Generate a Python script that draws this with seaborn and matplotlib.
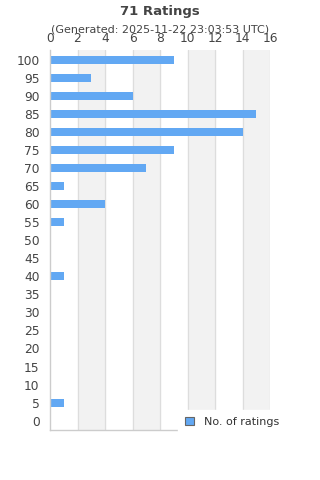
import pandas as pd
import seaborn as sns
import matplotlib.pyplot as plt
import numpy as np

scores = ['100', '95', '90', '85', '80', '75', '70', '65', '60', '55', '50',
          '45', '40', '35', '30', '25', '20', '15', '10', '5', '0']
ratings = [9, 3, 6, 15, 14, 9, 7, 1, 4, 1, 0, 0, 1, 0, 0, 0, 0, 0, 0, 1, 0]
x_ticks = [0, 2, 4, 6, 8, 10, 12, 14, 16]

data = pd.DataFrame({'score': scores, 'count': ratings})

sns.set_style("white")
plt.rcParams['font.family'] = ['DejaVu Sans']

fig = plt.figure(figsize=(3.2, 4.8), dpi=100)
ax = fig.add_axes([50/320, 1 - 430/480, 220/320, 380/480])

# alternating background bands
for i in range(len(x_ticks) - 1):
    if i % 2 == 1:
        ax.axvspan(x_ticks[i], x_ticks[i + 1], color='#f2f2f2', zorder=0)
for t in x_ticks[1:]:
    ax.axvline(t, color='#dddddd', lw=0.9, zorder=0.5)

sns.barplot(x='count', y='score', data=data, order=scores, orient='h',
            color='#62a8f3', saturation=1, width=0.44, ax=ax,
            label='No. of ratings', zorder=2, linewidth=0)

ax.set_xlim(0, 16)
ax.set_ylim(20.52, -0.55)
ax.set_xticks(x_ticks)
ax.xaxis.tick_top()
ax.tick_params(axis='x', length=0, pad=3.5, labelsize=8.8, labelcolor='#444444')
ax.tick_params(axis='y', length=0, pad=7.5, labelsize=8.8, labelcolor='#444444')
ax.set_xlabel('')
ax.set_ylabel('')
for side in ['top', 'right']:
    ax.spines[side].set_visible(False)
for side in ['left', 'bottom']:
    ax.spines[side].set_color('#cccccc')
    ax.spines[side].set_linewidth(1)

fig.text(0.5, 1 - 11/480, '71 Ratings', ha='center', va='center',
         fontsize=9.5, fontweight='bold', color='#444444')
fig.text(0.5, 1 - 30/480, '(Generated: 2025-11-22 23:03:53 UTC)', ha='center',
         va='center', fontsize=8, color='#444444')

leg = ax.legend(loc='center left', bbox_to_anchor=(178/320, 1 - 422/480),
                bbox_transform=fig.transFigure, frameon=True, fontsize=8,
                handlelength=0.8, handleheight=0.8, handletextpad=0.9,
                borderpad=0.6, borderaxespad=0)
leg.get_frame().set_facecolor('white')
leg.get_frame().set_edgecolor('white')
leg.get_frame().set_alpha(1)
for h in leg.legend_handles:
    h.set_edgecolor('#666666')
    h.set_linewidth(0.8)
for t in leg.get_texts():
    t.set_color('#333333')

plt.savefig('out.png', dpi=100)
